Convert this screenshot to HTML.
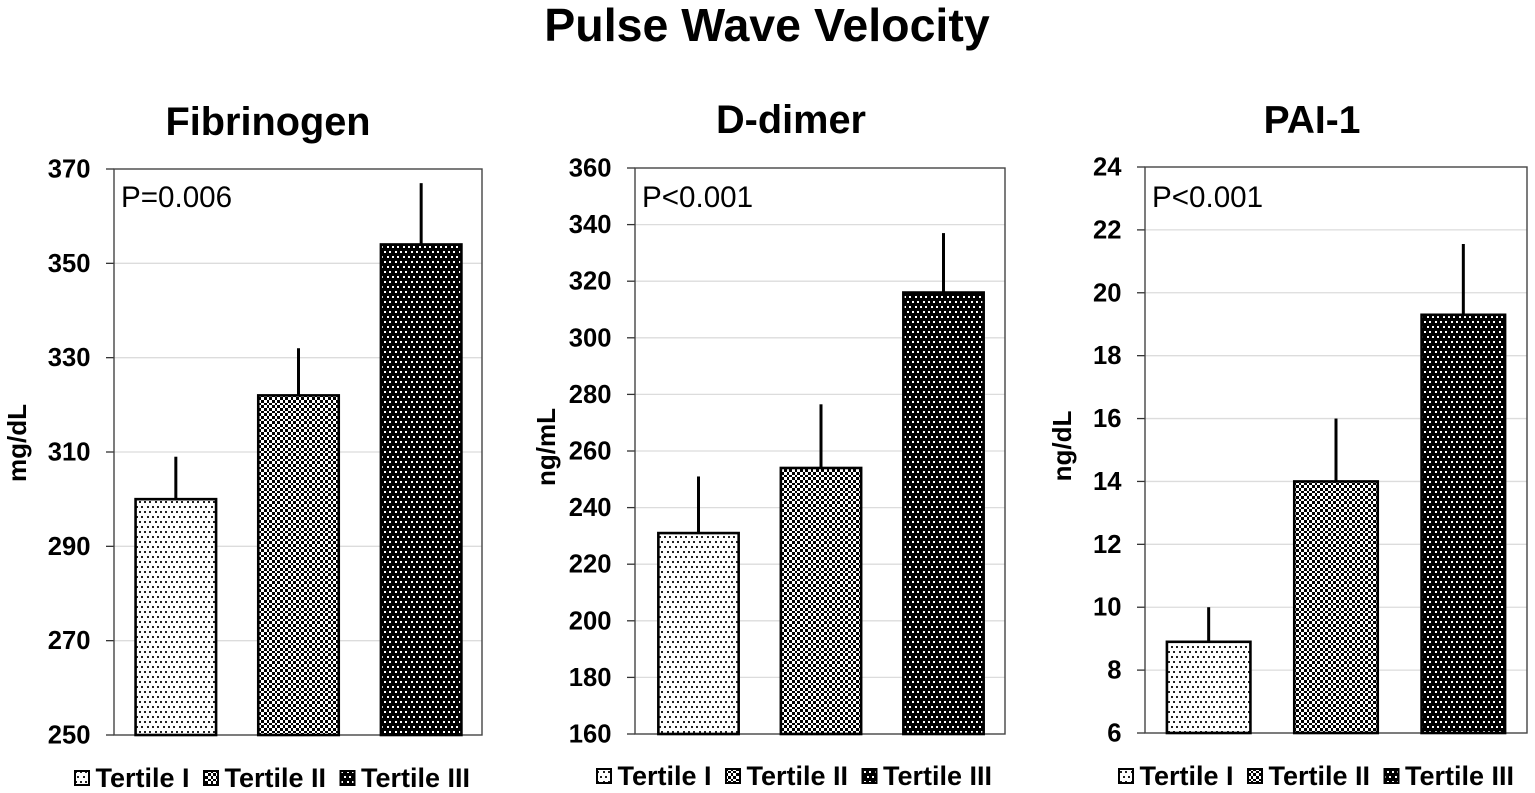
<!DOCTYPE html>
<html>
<head>
<meta charset="utf-8">
<title>Pulse Wave Velocity</title>
<style>
html,body{margin:0;padding:0;background:#fff;width:1535px;height:793px;overflow:hidden}
svg{display:block}
text{font-family:"Liberation Sans",sans-serif;fill:#000}
</style>
</head>
<body>
<svg id="chart" width="1535" height="793" viewBox="0 0 1535 793" xmlns="http://www.w3.org/2000/svg">
<defs>
<pattern id="pat1" width="16" height="10" patternUnits="userSpaceOnUse">
<rect width="16" height="10" fill="#fff"/>
<path shape-rendering="crispEdges" fill="#222" d="M0 1h2v2h-2zM5 1h2v2h-2zM11 1h2v2h-2zM3 6h2v2h-2zM8 6h2v2h-2zM13 6h2v2h-2z"/>
</pattern>
<pattern id="pat2" width="16" height="16" patternUnits="userSpaceOnUse">
<rect width="16" height="16" fill="#fff"/>
<path id="checker-cells" shape-rendering="crispEdges" fill="#000" d=""/>
</pattern>
<pattern id="pat3" width="16" height="10" patternUnits="userSpaceOnUse">
<rect width="16" height="10" fill="#000"/>
<path shape-rendering="crispEdges" fill="#fff" d="M0 1h2v2h-2zM5 1h2v2h-2zM11 1h2v2h-2zM3 6h2v2h-2zM8 6h2v2h-2zM13 6h2v2h-2z"/>
</pattern>
</defs>
<text x="767" y="41" font-size="46.5" font-weight="700" text-anchor="middle">Pulse Wave Velocity</text>
</svg>
<script>
const categories = ['Tertile I', 'Tertile II', 'Tertile III'];

const fibrinogenValues = [300, 322, 354];
const fibrinogenUpper = [309, 332, 367];
const fibrinogenTicks = [250, 270, 290, 310, 330, 350, 370];

const dDimerValues = [231, 254, 316];
const dDimerUpper = [251, 276.5, 337];
const dDimerTicks = [160, 180, 200, 220, 240, 260, 280, 300, 320, 340, 360];

const pai1Values = [8.9, 14, 19.3];
const pai1Upper = [10, 16, 21.55];
const pai1Ticks = [6, 8, 10, 12, 14, 16, 18, 20, 22, 24];

const svg = document.getElementById('chart');
const NS = 'http://www.w3.org/2000/svg';

/* pixel-snapped checkerboard tile for the Tertile II fill */
const cellEdges = [0, 3, 5, 8, 11, 13, 16];
let checkerPath = '';
for (let r = 0; r < 6; r++) {
  for (let c = 0; c < 6; c++) {
    if ((r + c) % 2 === 0) {
      const w = cellEdges[c + 1] - cellEdges[c];
      const h = cellEdges[r + 1] - cellEdges[r];
      checkerPath += 'M' + cellEdges[c] + ' ' + cellEdges[r] + 'h' + w + 'v' + h + 'h' + (-w) + 'z';
    }
  }
}
document.getElementById('checker-cells').setAttribute('d', checkerPath);

function make(tag, attrs, parent, txt) {
  const el = document.createElementNS(NS, tag);
  for (const k in attrs) el.setAttribute(k, attrs[k]);
  if (txt !== undefined) el.textContent = txt;
  parent.appendChild(el);
  return el;
}

function drawPanel(p) {
  const group = make('g', {}, svg);
  
  
  const min = p.ticks[0], max = p.ticks[p.ticks.length - 1];
  const yScale = v => p.bottom - (v - min) / (max - min) * (p.bottom - p.top);
  const plotW = p.right - p.left;
  const step = (p.bandR - p.bandL) / categories.length;
  const xScale = i => p.bandL + step * (i + 0.5);

  const title = make('text', {x: p.titleX, y: p.titleY, 'font-size': p.titleSize, 'font-weight': 700, 'text-anchor': 'middle'}, group, p.title);
  
  

  p.ticks.forEach(t => {
    const y = yScale(t);
    if (t !== min && t !== max) {
      const grid = make('line', {x1: p.left, x2: p.right, y1: y, y2: y, stroke: '#dcdcdc', 'stroke-width': 1.3}, group);
      
      
    }
    const mark = make('line', {x1: p.left - 8, x2: p.left, y1: y, y2: y, stroke: '#333', 'stroke-width': 1.3}, group);
    
    
    const label = make('text', {x: p.left - 23.5, y: y + 8.5, 'font-size': 25.6, 'font-weight': 700, 'text-anchor': 'end'}, group, t);
    
    
  });

  const frame = make('rect', {x: p.left, y: yScale(max), width: plotW, height: yScale(min) - yScale(max), fill: 'none', stroke: '#444', 'stroke-width': 1.4}, group);
  
  

  categories.forEach((c, i) => {
    const cx = xScale(i);
    const err = make('line', {x1: cx, x2: cx, y1: yScale(p.values[i]), y2: yScale(p.upper[i]), stroke: '#000', 'stroke-width': 3}, group);
    
    
    const top = yScale(p.values[i]);
    const bar = make('rect', {x: cx - p.barW / 2, y: top, width: p.barW, height: yScale(min) - top, fill: 'url(#pat' + (i + 1) + ')', stroke: '#000', 'stroke-width': 2.6}, group);
    
    
  });

  const pText = make('text', {x: p.left + 7, y: p.pY, 'font-size': 29.6}, group, p.pValue);
  
  

  const axisTitle = make('text', {transform: 'translate(' + p.axisX + ',' + p.axisY + ') rotate(-90)', 'font-size': 26, 'font-weight': 700, 'text-anchor': 'middle'}, group, p.unit);
  
  

  categories.forEach((c, i) => {
    const sx = p.legendX + [0, 129, 265.5][i];
    const swatch = make('rect', {x: sx, y: p.legendY - 16, width: 14, height: 14, fill: 'url(#pat' + (i + 1) + ')', stroke: '#000', 'stroke-width': 2}, group);
    
    
    const lt = make('text', {x: sx + 20.5, y: p.legendY, 'font-size': 27, 'font-weight': 700}, group, c);
    
    
  });
}

drawPanel({key: 'fibrinogen', title: 'Fibrinogen', titleX: 268, titleY: 135, titleSize: 39.7, unit: 'mg/dL', pValue: 'P=0.006',
  values: fibrinogenValues, upper: fibrinogenUpper, ticks: fibrinogenTicks,
  left: 114, right: 482, bandL: 114.5, bandR: 482.5, top: 169, bottom: 735, barW: 80.5, pY: 207, axisX: 26, axisY: 443, legendX: 75, legendY: 787});
drawPanel({key: 'd-dimer', title: 'D-dimer', titleX: 791, titleY: 133, titleSize: 39.7, unit: 'ng/mL', pValue: 'P<0.001',
  values: dDimerValues, upper: dDimerUpper, ticks: dDimerTicks,
  left: 635, right: 1005, bandL: 637.25, bandR: 1004.75, top: 168, bottom: 734, barW: 80.3, pY: 207, axisX: 555, axisY: 447, legendX: 597, legendY: 785});
drawPanel({key: 'pai-1', title: 'PAI-1', titleX: 1312, titleY: 133, titleSize: 39, unit: 'ng/dL', pValue: 'P<0.001',
  values: pai1Values, upper: pai1Upper, ticks: pai1Ticks,
  left: 1145, right: 1527, bandL: 1145, bandR: 1527, top: 167, bottom: 733, barW: 83.5, pY: 207, axisX: 1071, axisY: 446, legendX: 1119, legendY: 785});
</script>
</body>
</html>
